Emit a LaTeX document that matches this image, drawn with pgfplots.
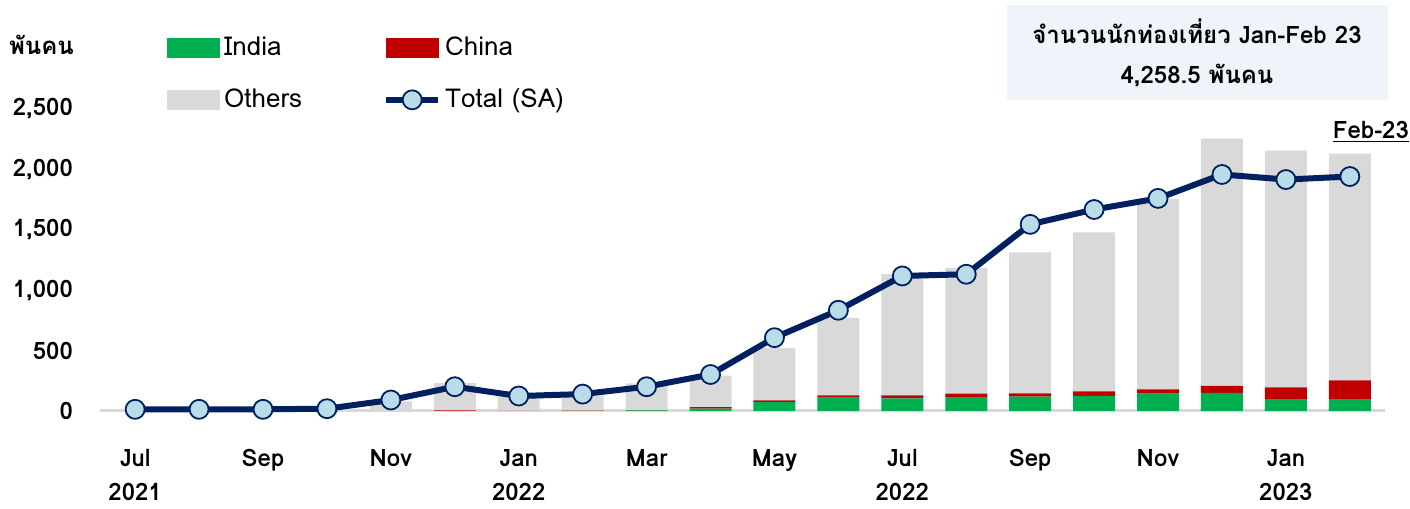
\documentclass[border=0pt]{standalone}
\usepackage{pgfplots}
\pgfplotsset{compat=1.18}
\usepackage{fontspec}
\setmainfont[Script=Thai]{Loma}
\definecolor{cIndia}{HTML}{00B050}
\definecolor{cChina}{HTML}{C00000}
\definecolor{cOther}{HTML}{D9D9D9}
\definecolor{cNavy}{HTML}{002060}
\definecolor{cMark}{HTML}{B9DDE8}
\definecolor{cBox}{HTML}{EEF4FA}
\pgfplotsset{
  lineleg/.style={legend image code/.code={\draw[mark repeat=2,mark phase=2,##1] plot coordinates {(-2.5pt,0pt) (10.5pt,0pt) (23.5pt,0pt)};}},
  boxleg/.style={legend image code/.code={\fill[#1] (-2.5pt,-4.75pt) rectangle (23.5pt,4.75pt);}},
}
\begin{document}
\begin{tikzpicture}
\path[use as bounding box] (-50pt,-49pt) rectangle (655pt,205.5pt);
\begin{axis}[
  at={(0,0)}, anchor=south west,
  scale only axis, width=642.5pt, height=151pt,
  xmin=-0.55, xmax=19.55, ymin=0, ymax=2500,
  ybar stacked, bar width=21pt,
  axis x line*=bottom, axis y line*=left,
  x axis line style={draw=black!15, line width=1.5pt, -},
  y axis line style={draw=none},
  tick style={draw=none},
  xtick={0,2,...,18},
  xticklabels={{Jul\\2021},{Sep\\\strut},{Nov\\\strut},{Jan\\2022},{Mar\\\strut},{May\\\strut},{Jul\\2022},{Sep\\\strut},{Nov\\\strut},{Jan\\2023}},
  xticklabel style={align=center, inner sep=0pt, font=\fontsize{12}{17}\selectfont\bfseries, yshift=-19pt},
  ytick={0,500,...,2500},
  yticklabel style={font=\fontsize{12}{14}\selectfont\bfseries, xshift=-10pt},
  /pgf/number format/assume math mode=true,
  /pgf/number format/1000 sep={,},
  clip=false,
]
\addplot[fill=cIndia, draw=none] coordinates {(0,0) (1,0) (2,0) (3,0) (4,0) (5,0) (6,0) (7,1) (8,5) (9,20) (10,74) (11,115) (12,104) (13,115) (14,118) (15,126) (16,143) (17,151) (18,99) (19,99)};
\addplot[fill=cChina, draw=none] coordinates {(0,0) (1,0) (2,0) (3,0) (4,0) (5,5) (6,2) (7,2) (8,2) (9,12) (10,14) (11,14) (12,25) (13,28) (14,28) (15,36) (16,36) (17,58) (18,96) (19,154)};
\addplot[fill=cOther, draw=none] coordinates {(0,14) (1,8) (2,8) (3,10) (4,80) (5,225) (6,118) (7,125) (8,221) (9,260) (10,434) (11,641) (12,1004) (13,1039) (14,1168) (15,1316) (16,1576) (17,2046) (18,1961) (19,1878)};
\end{axis}
\begin{axis}[
  at={(0,0)}, anchor=south west,
  scale only axis, width=642.5pt, height=151pt,
  xmin=-0.55, xmax=19.55, ymin=0, ymax=2500,
  hide axis, clip=false,
  legend columns=2,
  legend cell align=left,
  legend style={draw=none, fill=none, at={(30.5pt,168.5pt)}, anchor=west,
    font=\fontsize{13}{15}\selectfont, row sep=11pt,
    /tikz/every even column/.append style={column sep=38.5pt}},
]
\addlegendimage{boxleg=cIndia}
\addlegendentry{India}
\addlegendimage{boxleg=cChina}
\addlegendentry{China}
\addlegendimage{boxleg=cOther}
\addlegendentry{Others}
\addplot[cNavy, line width=3pt, mark=*, mark size=4.75pt, mark options={fill=cMark, draw=cNavy, line width=0.9pt}, lineleg]
  coordinates {(0,14) (1,14) (2,14) (3,19) (4,91) (5,201) (6,124) (7,140) (8,201) (9,302) (10,607) (11,834) (12,1118) (13,1132) (14,1545) (15,1668) (16,1760) (17,1958) (18,1916) (19,1941)};
\addlegendentry{Total (SA)}
\end{axis}
\node[anchor=west, font=\fontsize{12}{14}\selectfont\bfseries] at (-49pt,183pt) {พันคน};
\fill[cBox] (453.5pt,155.5pt) rectangle (644pt,203pt);
\node[align=center, font=\fontsize{12}{20}\selectfont\bfseries] at (548.5pt,179pt) {จำนวนนักท่องเที่ยว Jan-Feb 23\\4,258.5 พันคน};
\node[anchor=east, font=\fontsize{12}{14}\selectfont\bfseries] at (658pt,139.5pt) {\underline{Feb-23}};
\end{tikzpicture}
\end{document}
